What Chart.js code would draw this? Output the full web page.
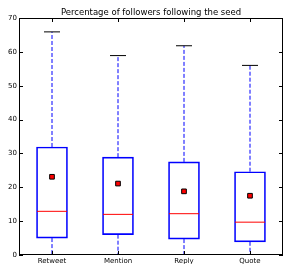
<!DOCTYPE html>
<html>
<head>
<meta charset="utf-8">
<script src="https://cdn.jsdelivr.net/npm/chart.js@4/dist/chart.umd.min.js"></script>
<style>
html, body { margin: 0; padding: 0; background: #fff; overflow: hidden; }
#wrap { width: 284px; height: 264px; position: relative; overflow: hidden; }
canvas { display: block; }
</style>
</head>
<body>
<div id="wrap"><canvas id="boxChart"></canvas></div>
<script>
const categories = ['Retweet', 'Mention', 'Reply', 'Quote'];
const q1 = [5.0, 6.0, 4.7, 3.9];
const medians = [12.9, 12.0, 12.2, 9.7];
const q3 = [31.9, 28.9, 27.5, 24.6];
const whiskerLow = [0, 0, 0, 0];
const whiskerHigh = [65.9, 58.9, 61.8, 56.0];
const means = [23.1, 21.1, 18.8, 17.5];
const yTicks = [0, 10, 20, 30, 40, 50, 60, 70];

const FONT = 'DejaVu Sans';
const pos = categories.map((c, i) => i + 1);

// whiskers: q3 -> high, q1 -> low, broken by nulls
const whiskerPts = [];
pos.forEach((x, i) => {
    whiskerPts.push({ x, y: q3[i] }, { x, y: whiskerHigh[i] }, { x, y: null });
    whiskerPts.push({ x, y: q1[i] }, { x, y: whiskerLow[i] }, { x, y: null });
});
const capPts = [];
pos.forEach((x, i) => { capPts.push({ x, y: whiskerHigh[i] }, { x, y: whiskerLow[i] }); });

// frame + inward ticks on all four sides
const framePlugin = {
    id: 'frame',
    afterDatasetsDraw(chart) {
        const { ctx, chartArea: a, scales: { x, y } } = chart;
        ctx.save();
        ctx.strokeStyle = '#000';
        ctx.lineWidth = 1;
        ctx.strokeRect(a.left + 0.5, a.top + 0.5, a.right - a.left - 1, a.bottom - a.top - 1);
        ctx.beginPath();
        yTicks.forEach(v => {
            const py = Math.round(y.getPixelForValue(v)) + 0.5;
            ctx.moveTo(a.left, py); ctx.lineTo(a.left + 4, py);
            ctx.moveTo(a.right, py); ctx.lineTo(a.right - 4, py);
        });
        pos.forEach(v => {
            const px = Math.round(x.getPixelForValue(v)) + 0.5;
            ctx.moveTo(px, a.top); ctx.lineTo(px, a.top + 4);
            ctx.moveTo(px, a.bottom); ctx.lineTo(px, a.bottom - 4);
        });
        ctx.stroke();
        ctx.restore();
    }
};

const noPad = s => { s.paddingLeft = s.paddingRight = s.paddingTop = s.paddingBottom = 0; };

new Chart(document.getElementById('boxChart'), {
    type: 'bar',
    data: {
        datasets: [
            {
                type: 'line', label: 'whiskers', data: whiskerPts, order: 4,
                borderColor: '#0000ff', borderWidth: 1, borderDash: [4, 2],
                pointRadius: 0, spanGaps: false, fill: false
            },
            {
                type: 'bar', label: 'box', order: 3,
                data: pos.map((x, i) => ({ x, y: [q1[i], q3[i]] })),
                backgroundColor: 'rgba(0,0,0,0)', borderColor: '#0000ff',
                borderWidth: 1, borderSkipped: false, barThickness: 31
            },
            {
                type: 'scatter', label: 'caps', data: capPts, order: 2,
                pointStyle: 'line', pointRadius: 8, borderColor: '#000', borderWidth: 1
            },
            {
                type: 'scatter', label: 'median', order: 1,
                data: pos.map((x, i) => ({ x, y: medians[i] })),
                pointStyle: 'line', pointRadius: 15, borderColor: '#ff0000', borderWidth: 1
            },
            {
                type: 'scatter', label: 'mean', order: 0,
                data: pos.map((x, i) => ({ x, y: means[i] })),
                pointStyle: 'rect', pointRadius: 3.3, backgroundColor: '#ff0000',
                borderColor: '#000', borderWidth: 1
            }
        ]
    },
    options: {
        responsive: true,
        maintainAspectRatio: false,
        animation: false,
        layout: { autoPadding: false, padding: { top: 0, right: 1, left: 0, bottom: 0 } },
        plugins: {
            legend: { display: false },
            tooltip: { enabled: false },
            title: { display: false }
        },
        scales: {
            x: {
                type: 'linear', min: 0.5, max: 4.5, offset: false,
                afterBuildTicks: s => { s.ticks = pos.map(v => ({ value: v })); },
                afterFit: s => { s.height = 9; noPad(s); },
                grid: { display: false, drawTicks: false },
                border: { display: false },
                ticks: {
                    color: '#000', padding: 2, maxRotation: 0, autoSkip: false,
                    font: { family: FONT, size: 7 },
                    callback: v => categories[v - 1]
                }
            },
            xTop: {
                type: 'linear', position: 'top', min: 0.5, max: 4.5,
                afterFit: s => { s.height = 18; noPad(s); },
                grid: { display: false, drawTicks: false },
                border: { display: false },
                ticks: { display: false },
                title: {
                    display: true, text: 'Percentage of followers following the seed',
                    color: '#000', font: { family: FONT, size: 8.5 },
                    padding: { top: 8, bottom: 0 }
                }
            },
            y: {
                min: 0, max: 70,
                afterBuildTicks: s => { s.ticks = yTicks.map(v => ({ value: v })); },
                afterFit: s => { s.width = 19; noPad(s); },
                grid: { display: false, drawTicks: false },
                border: { display: false },
                ticks: { color: '#000', padding: 2, font: { family: FONT, size: 7 } }
            }
        }
    },
    plugins: [framePlugin]
});
</script>
</body>
</html>
